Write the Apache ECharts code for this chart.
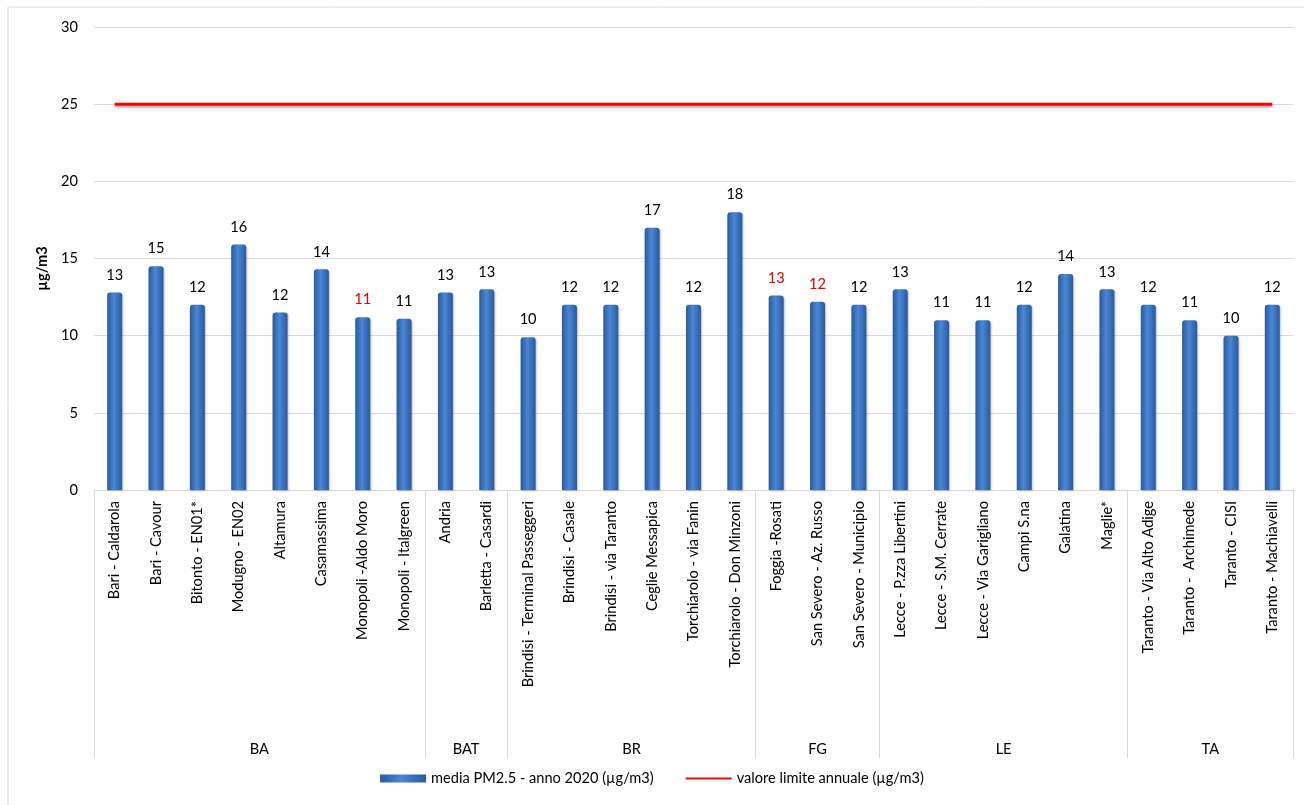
<!DOCTYPE html>
<html>
<head>
<meta charset="utf-8">
<script src="https://cdn.jsdelivr.net/npm/echarts@6/dist/echarts.min.js"></script>
<style>
html,body{margin:0;padding:0;background:#fff;}
#c{width:1304px;height:805px;}
</style>
</head>
<body>
<div id="c"></div>
<script>
var stations = ["Bari - Caldarola","Bari - Cavour","Bitonto - EN01*","Modugno - EN02","Altamura","Casamassima","Monopoli -Aldo Moro","Monopoli - Italgreen","Andria","Barletta - Casardi","Brindisi - Terminal Passeggeri","Brindisi - Casale","Brindisi - via Taranto","Ceglie Messapica","Torchiarolo - via Fanin","Torchiarolo - Don Minzoni","Foggia -Rosati","San Severo - Az. Russo","San Severo - Municipio","Lecce - P.zza Libertini","Lecce - S.M. Cerrate","Lecce - Via Garigliano","Campi S.na","Galatina","Maglie*","Taranto - Via Alto Adige","Taranto -  Archimede","Taranto - CISI","Taranto - Machiavelli"];
var pm25 = [12.8,14.5,12.0,15.9,11.5,14.3,11.2,11.1,12.8,13.0,9.9,12.0,12.0,17.0,12.0,18.0,12.6,12.2,12.0,13.0,11.0,11.0,12.0,14.0,13.0,12.0,11.0,10.0,12.0];
var pmLabels = ["13","15","12","16","12","14","11","11","13","13","10","12","12","17","12","18","13","12","12","13","11","11","12","14","13","12","11","10","12"];
var redLabels = [6,16,17];
var limitValue = [25,25,25,25,25,25,25,25,25,25,25,25,25,25,25,25,25,25,25,25,25,25,25,25,25,25,25,25,25];
var groups = ["BA","BAT","BR","FG","LE","TA"];
var groupSizes = [8,2,6,3,6,4];
var yTicks = [0,5,10,15,20,25,30];

var groupStarts = [], groupCenters = {};
(function(){ var s=0; for (var i=0;i<groups.length;i++){ groupStarts.push(s); groupCenters[String(s+groupSizes[i]/2)] = groups[i]; s+=groupSizes[i]; } })();

var FONT = 'Lato';
var FS = 14.6;
var chart = echarts.init(document.getElementById('c'));
var barGrad = new echarts.graphic.LinearGradient(0,0,1,0,[
  {offset:0,color:'#2a5a9e'},{offset:0.45,color:'#4a86d2'},{offset:0.6,color:'#3f7bc8'},{offset:1,color:'#2a5a9e'}]);

chart.setOption({
  animation:false,
  textStyle:{fontFamily:FONT},
  graphic:[{type:'rect',shape:{x:8,y:7,width:1310,height:810},style:{fill:'none',stroke:'#d9d9d9',lineWidth:1},silent:true}],
  grid:{left:94,right:11,top:27,bottom:315,containLabel:false},
  legend:{
    bottom:14,left:'center',itemGap:32,itemWidth:46,itemHeight:8,
    textStyle:{fontFamily:FONT,fontSize:FS,color:'#000'},
    data:[{name:'media PM2.5 - anno 2020 (µg/m3)',icon:'rect'},
          {name:'valore limite annuale (µg/m3)',icon:'path://M0,0L46,0L46,2L0,2Z',itemStyle:{color:'#ff0000'}}]
  },
  xAxis:[{
    type:'category',data:stations,boundaryGap:true,
    axisLine:{lineStyle:{color:'#d9d9d9',width:1}},
    axisTick:{show:true,length:268,lineStyle:{color:'#d9d9d9',width:1},
      interval:function(idx){return groupStarts.indexOf(idx)>=0;}},
    axisLabel:{interval:0,rotate:90,fontFamily:FONT,fontSize:FS,color:'#000',margin:11}
  },{
    type:'value',position:'bottom',min:0,max:stations.length,interval:0.5,offset:252,
    axisLine:{show:false},axisTick:{show:false},splitLine:{show:false},
    axisLabel:{fontFamily:FONT,fontSize:FS,color:'#000',margin:0,showMinLabel:true,showMaxLabel:true,
      formatter:function(v){return groupCenters[String(v)]||'';}}
  }],
  yAxis:{
    type:'value',min:0,max:30,interval:5,
    name:'µg/m3',nameLocation:'middle',nameGap:42,
    nameTextStyle:{fontFamily:FONT,fontSize:FS,fontWeight:'bold',color:'#000',padding:[0,20,0,0]},
    axisLine:{show:false},axisTick:{show:false},
    splitLine:{lineStyle:{color:'#d9d9d9',width:1}},
    axisLabel:{fontFamily:FONT,fontSize:FS,color:'#000',margin:16,
      formatter:function(v){return yTicks.indexOf(v)>=0?String(v):'';}}
  },
  series:[{
    name:'media PM2.5 - anno 2020 (µg/m3)',type:'bar',barWidth:15,
    itemStyle:{color:barGrad,borderRadius:[3,3,0,0],shadowColor:'rgba(0,0,0,0.25)',shadowBlur:2,shadowOffsetX:1,shadowOffsetY:1},
    data:pm25.map(function(v,i){
      return {value:v,label:{color:redLabels.indexOf(i)>=0?'#e00000':'#000'}};
    }),
    label:{show:true,position:'top',distance:10,fontFamily:FONT,fontSize:FS,
      formatter:function(p){return pmLabels[p.dataIndex];}}
  },{
    name:'valore limite annuale (µg/m3)',type:'line',data:limitValue,
    symbol:'none',showSymbol:false,
    lineStyle:{color:'#ff0000',width:3,shadowColor:'rgba(0,0,0,0.3)',shadowBlur:2,shadowOffsetY:2},
    itemStyle:{color:'#ff0000'}
  }]
});
</script>
</body>
</html>
